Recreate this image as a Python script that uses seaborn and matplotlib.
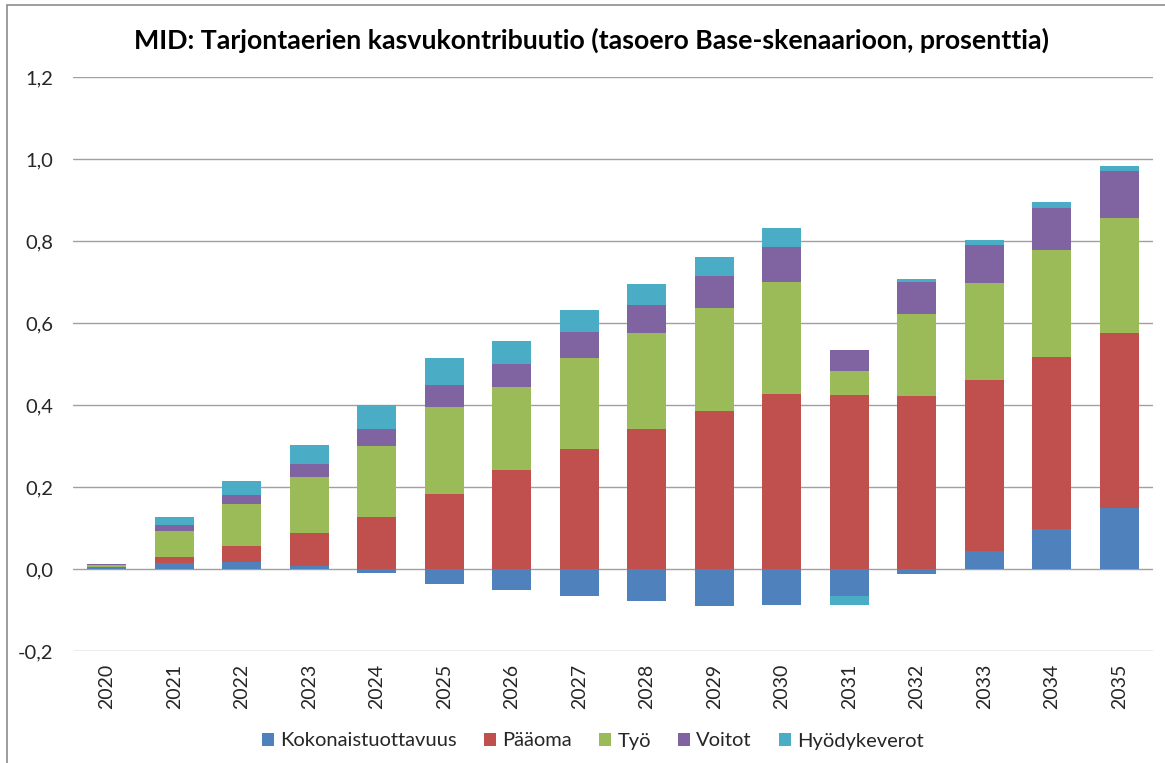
import numpy as np
import pandas as pd
import matplotlib.pyplot as plt
import seaborn as sns
from matplotlib.patches import Patch, Rectangle
from matplotlib.ticker import FuncFormatter

# data
years = [str(y) for y in range(2020, 2036)]
kokonaistuottavuus = [0.005, 0.015, 0.017, 0.008, -0.010, -0.036, -0.052, -0.066,
                      -0.079, -0.091, -0.087, -0.066, -0.012, 0.043, 0.097, 0.149]
paaoma = [0.001, 0.015, 0.040, 0.080, 0.128, 0.184, 0.242, 0.293,
          0.342, 0.386, 0.428, 0.425, 0.421, 0.418, 0.421, 0.426]
tyo = [0.004, 0.063, 0.102, 0.136, 0.172, 0.211, 0.202, 0.221,
       0.233, 0.250, 0.273, 0.059, 0.201, 0.237, 0.261, 0.282]
voitot = [0.001, 0.015, 0.022, 0.031, 0.042, 0.054, 0.056, 0.063,
          0.070, 0.079, 0.085, 0.050, 0.079, 0.093, 0.102, 0.114]
hyodykeverot = [0.002, 0.020, 0.034, 0.047, 0.057, 0.065, 0.056, 0.055,
                0.051, 0.046, 0.045, -0.022, 0.006, 0.011, 0.013, 0.011]

series = ['Kokonaistuottavuus', 'Pääoma', 'Työ', 'Voitot', 'Hyödykeverot']
colors = ['#4F81BD', '#C0504D', '#9BBB59', '#8064A2', '#4BACC6']

df = pd.DataFrame({'Kokonaistuottavuus': kokonaistuottavuus, 'Pääoma': paaoma,
                   'Työ': tyo, 'Voitot': voitot, 'Hyödykeverot': hyodykeverot},
                  index=years)

sns.set_theme(style='white')
plt.rcParams['font.family'] = ['Lato', 'DejaVu Sans']

fig = plt.figure(figsize=(11.65, 7.63), dpi=100)
ax = fig.add_axes([73 / 1165, 1 - 651 / 763, 1080 / 1165, 574 / 763])

# stack positives and negatives separately, like Excel
pos_base = np.zeros(len(years))
neg_base = np.zeros(len(years))
for name, col in zip(series, colors):
    vals = df[name].values
    bottom = np.where(vals >= 0, pos_base, neg_base)
    sns.barplot(x=years, y=vals, bottom=bottom, color=col, saturation=1,
                width=0.571, linewidth=0, ax=ax, zorder=3)
    pos_base = pos_base + np.clip(vals, 0, None)
    neg_base = neg_base + np.clip(vals, None, 0)

ax.set_ylim(-0.2, 1.2)
ax.set_yticks(np.arange(-0.2, 1.21, 0.2))
ax.yaxis.set_major_formatter(FuncFormatter(lambda v, p: f'{v:.1f}'.replace('.', ',').replace('-0,0', '0,0')))
ax.set_xlim(-0.5, len(years) - 0.5)
ax.grid(axis='y', color='#A0A0A0', linewidth=1, zorder=0)
ax.set_axisbelow(True)
sns.despine(ax=ax, left=True, bottom=True)
ax.tick_params(axis='x', rotation=90, labelsize=14, pad=9, length=0)
ax.tick_params(axis='y', labelsize=14.5, pad=14, length=0)
for lab in ax.get_xticklabels():
    lab.set_va('top')
ax.set_xlabel('')
ax.set_ylabel('')

fig.text(591 / 1165, 1 - 40 / 763,
         'MID: Tarjontaerien kasvukontribuutio (tasoero Base-skenaarioon, prosenttia)',
         ha='center', va='center', fontsize=19.3, fontweight='bold', color='black')

handles = [Patch(facecolor=c, edgecolor='none', label=s) for s, c in zip(series, colors)]
fig.legend(handles=handles, loc='center', bbox_to_anchor=(593 / 1165, 1 - 741 / 763),
           ncol=5, frameon=False, fontsize=14.5, handlelength=0.6, handleheight=0.6,
           handletextpad=0.3, columnspacing=1.35)

# outer chart frame (left and top edges visible)
fig.patches.append(Rectangle((7 / 1165, -0.05), 1.2, 1 - 5 / 763 + 0.05,
                             transform=fig.transFigure, fill=False,
                             edgecolor='#8C8C8C', linewidth=1.2))

fig.savefig('out.png', dpi=100)
